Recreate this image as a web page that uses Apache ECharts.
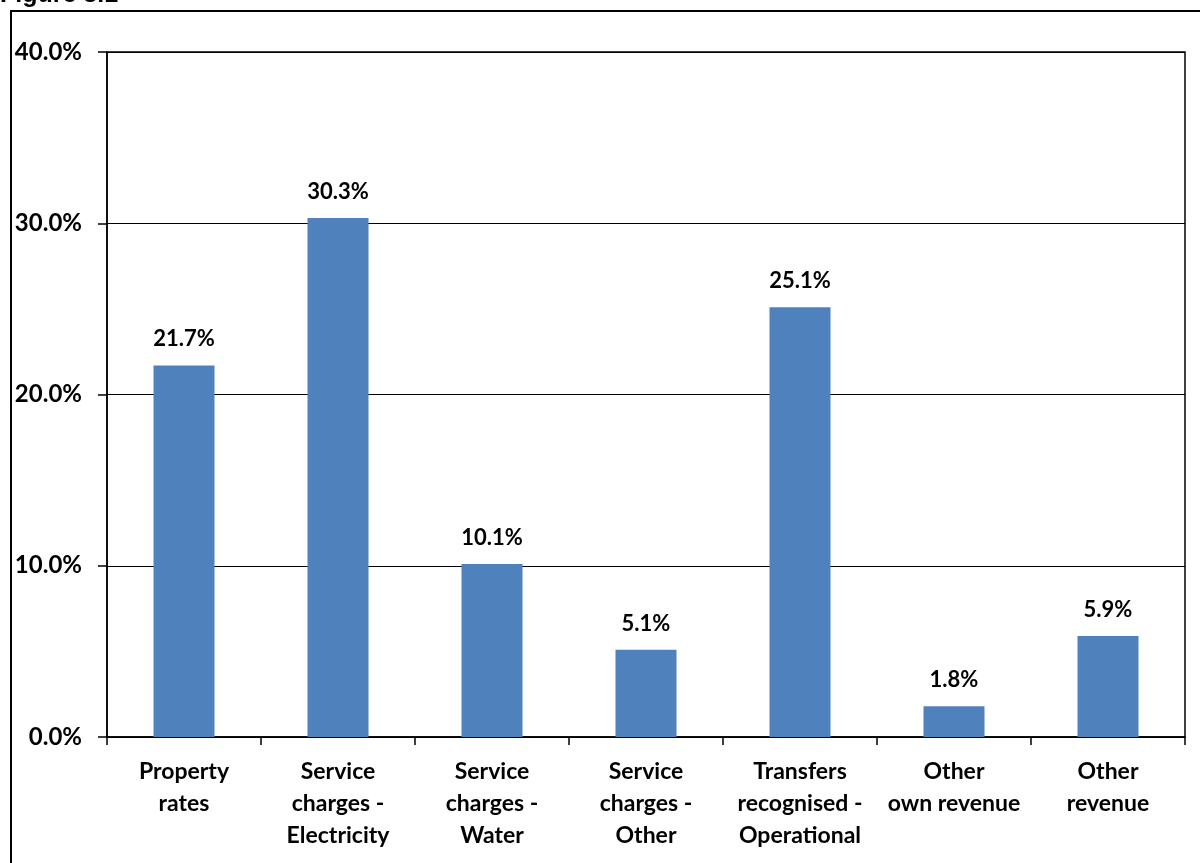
<!DOCTYPE html>
<html>
<head>
<meta charset="utf-8">
<script src="https://cdn.jsdelivr.net/npm/echarts@6/dist/echarts.min.js"></script>
<style>
  html, body { margin: 0; padding: 0; background: #fff; }
  #chart { width: 1200px; height: 863px; }
</style>
</head>
<body>
<div id="chart"></div>
<script>
// Revenue composition by source (share of total, %)
const categories = [
  'Property\nrates',
  'Service\ncharges -\nElectricity',
  'Service\ncharges -\nWater',
  'Service\ncharges -\nOther',
  'Transfers\nrecognised -\nOperational',
  'Other\nown revenue',
  'Other\nrevenue'
];
const shares = [21.7, 30.3, 10.1, 5.1, 25.1, 1.8, 5.9];
const figureTitle = 'Figure 3.1';

const chart = echarts.init(document.getElementById('chart'), null, { renderer: 'canvas' });

const labelFont = 'Lato, "Open Sans", sans-serif';

chart.setOption({
  animation: false,
  backgroundColor: '#fff',
  graphic: [
    {
      type: 'rect',
      shape: { x: 11, y: 11, width: 1220, height: 900 },
      style: { fill: 'none', stroke: '#000', lineWidth: 2 },
      silent: true
    },
    {
      type: 'text',
      left: 0,
      top: -17,
      style: {
        text: figureTitle,
        font: 'bold 25px "Liberation Sans", Arial, sans-serif',
        fill: '#000'
      }
    }
  ],
  grid: {
    left: 107,
    top: 52,
    right: 15,
    bottom: 126,
    show: true,
    borderColor: '#000',
    borderWidth: 1.5,
    backgroundColor: 'transparent'
  },
  xAxis: {
    type: 'category',
    data: categories,
    boundaryGap: true,
    axisLine: { show: true, lineStyle: { color: '#000', width: 1.5 } },
    axisTick: { show: true, length: 8, alignWithLabel: false, lineStyle: { color: '#000', width: 1.5 } },
    axisLabel: {
      interval: 0,
      margin: 19,
      color: '#000',
      fontFamily: labelFont,
      fontWeight: 'bold',
      fontSize: 23,
      lineHeight: 32,
      hideOverlap: false
    }
  },
  yAxis: {
    type: 'value',
    min: 0,
    max: 40,
    interval: 10,
    axisLine: { show: true, lineStyle: { color: '#000', width: 1.5 } },
    axisTick: { show: true, length: 9, lineStyle: { color: '#000', width: 1.5 } },
    splitLine: { show: true, lineStyle: { color: '#000', width: 1.2 } },
    axisLabel: {
      margin: 25,
      color: '#000',
      fontFamily: labelFont,
      fontWeight: 'bold',
      fontSize: 24,
      formatter: v => v.toFixed(1) + '%'
    }
  },
  series: [
    {
      type: 'bar',
      data: shares,
      barWidth: 61,
      itemStyle: { color: '#4F81BD' },
      label: {
        show: true,
        position: 'top',
        distance: 15,
        color: '#000',
        fontFamily: labelFont,
        fontWeight: 'bold',
        fontSize: 22,
        formatter: p => p.value.toFixed(1) + '%'
      }
    }
  ]
});
</script>
</body>
</html>
